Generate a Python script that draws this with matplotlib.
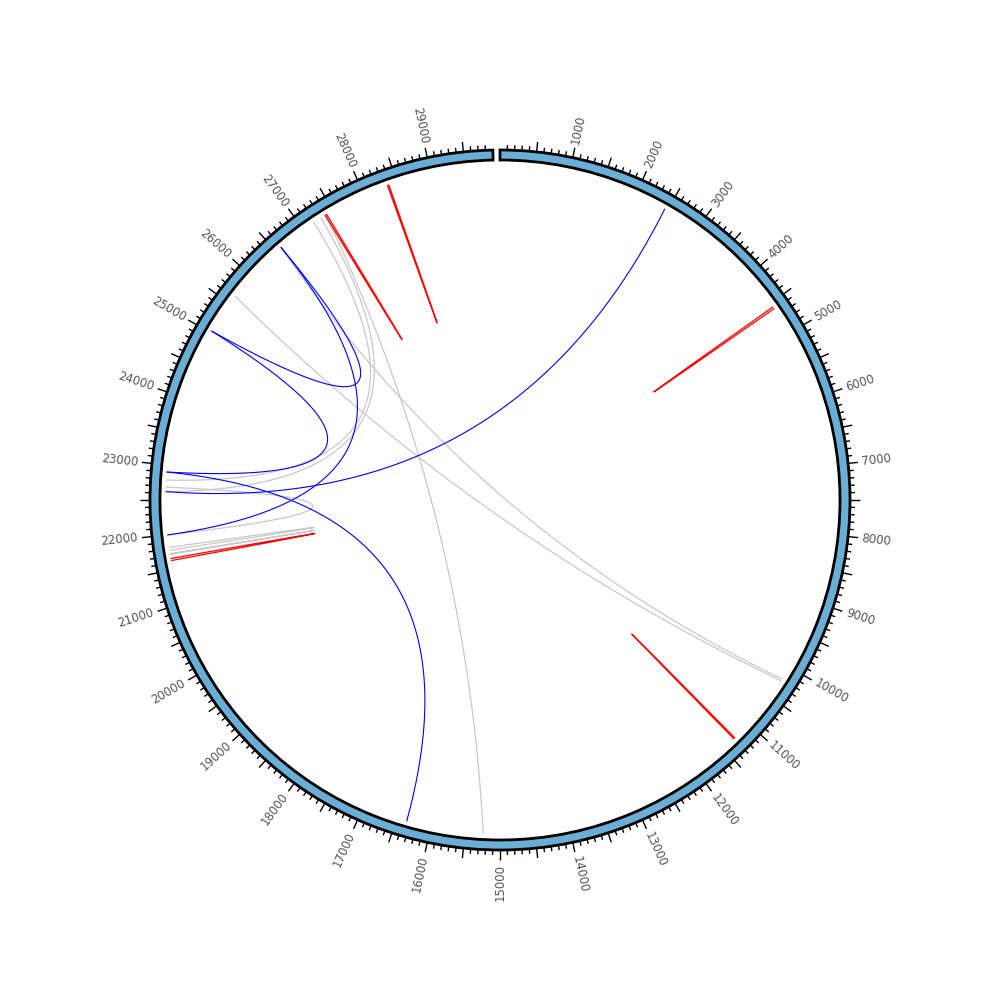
import numpy as np
import matplotlib.pyplot as plt
from matplotlib.patches import Wedge
from matplotlib.collections import LineCollection

# genome length and ruler
genome_len = 29903
tick_step = 100
major_step = 500
label_step = 1000

# links (genome positions)
gray_start = [26590, 25630, 27180, 27300, 27380, 22685, 21780, 21720]
gray_end = [10200, 10230, 22785, 22620, 15240, 22000, 21820, 21730]

blue_start = [2460, 16350, 26590, 26590, 25030]
blue_end = [22620, 22900, 22000, 25030, 22900]

red_start = [4560, 27370, 28360, 11280, 21630]
red_end = [4590, 27395, 28380, 11300, 21660]

deg_per_base = 0.012
R_IN, R_OUT = 340, 350
R_LINK = 334


def unit(phi):
    # phi: degrees clockwise from top
    a = np.radians(90 - phi)
    return np.array([np.cos(a), np.sin(a)])


def link_curve(p1, p2, n=200):
    f1, f2 = p1 * deg_per_base, p2 * deg_per_base
    P0 = R_LINK * unit(f1)
    P2 = R_LINK * unit(f2)
    d = np.radians(abs(f1 - f2))
    C = 42 * abs(np.cos(d)) * unit((f1 + f2) / 2)
    t = np.linspace(0, 1, n)[:, None]
    return (1 - t) ** 2 * P0 + 2 * (1 - t) * t * C + t ** 2 * P2


fig = plt.figure(figsize=(10, 10), dpi=100)
ax = fig.add_axes([0, 0, 1, 1])
ax.set_xlim(-500, 500)
ax.set_ylim(-500, 500)
ax.set_aspect('equal')
ax.axis('off')

# ring
end_phi = genome_len * deg_per_base
ax.add_patch(Wedge((0, 0), R_OUT, 90 - end_phi, 90, width=R_OUT - R_IN,
                   facecolor='#6aaed6', edgecolor='black', lw=2))

# ticks
segs = []
for pos in range(tick_step, genome_len - tick_step, tick_step):
    u = unit(pos * deg_per_base)
    L = 10 if pos % major_step == 0 else 5
    segs.append([R_OUT * u, (R_OUT + L) * u])
ax.add_collection(LineCollection(segs, colors='black', linewidths=1))

# tick labels
for pos in range(label_step, genome_len, label_step):
    phi = pos * deg_per_base
    x, y = 364 * unit(phi)
    if phi < 180:
        rot, ha = 90 - phi, 'left'
    else:
        rot, ha = 270 - phi, 'right'
    ax.text(x, y, str(pos), rotation=rot, ha=ha, va='center',
            rotation_mode='anchor', fontsize=8.5, color='#555555')

# links
for s, e in zip(gray_start, gray_end):
    c = link_curve(s, e)
    ax.plot(c[:, 0], c[:, 1], color='#c8c8c8', lw=0.9)
for s, e in zip(blue_start, blue_end):
    c = link_curve(s, e)
    ax.plot(c[:, 0], c[:, 1], color='blue', lw=0.8)
for s, e in zip(red_start, red_end):
    c = link_curve(s, e)
    ax.plot(c[:, 0], c[:, 1], color='red', lw=0.9)

plt.savefig('out.png', dpi=100)
